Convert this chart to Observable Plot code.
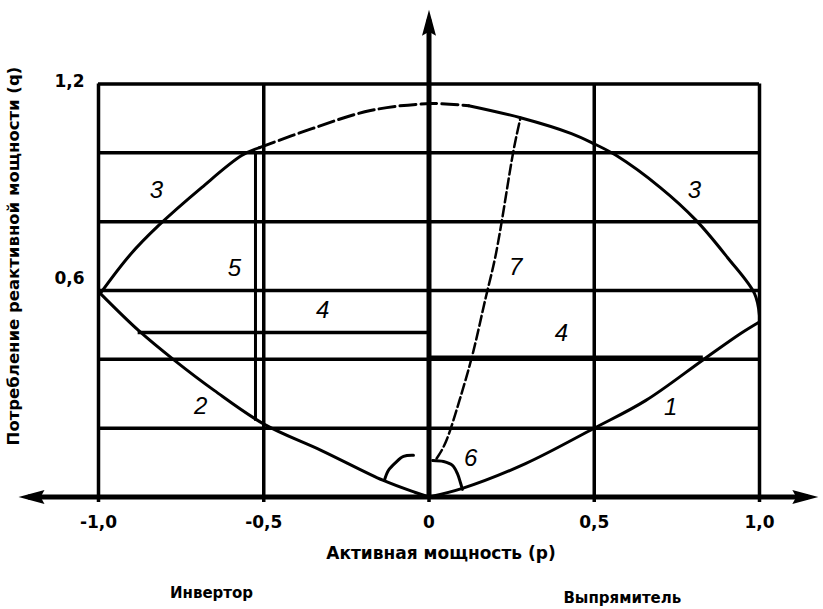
<!DOCTYPE html>
<html>
<head>
<meta charset="utf-8">
<script src="https://cdn.jsdelivr.net/npm/d3@7"></script>
<script src="https://cdn.jsdelivr.net/npm/@observablehq/plot@0.6"></script>
<style>
  html, body { margin: 0; padding: 0; background: #fff; }
  #chart svg { display: block; }
</style>
</head>
<body>
<div id="chart"></div>
<script>
// Grid and tick labels (active power p, reactive power q, per unit)
const pGrid = [-1, -0.5, 0, 0.5, 1];
const qGrid = [0.2, 0.4, 0.6, 0.8, 1.0, 1.2];
const pTickLabels = ["-1,0", "-0,5", "0", "0,5", "1,0"];
const qTicks = [0.6, 1.2];
const qTickLabels = ["0,6", "1,2"];

// Curve 1: rectifier operation
const curve1P = [0, 0.101, 0.292, 0.498, 0.655, 0.830, 0.943, 0.997];
const curve1Q = [0, 0.025, 0.097, 0.199, 0.280, 0.399, 0.475, 0.507];

// Curve 2: inverter operation
const curve2P = [-0.994, -0.879, -0.770, -0.649, -0.498, -0.325, -0.138, -0.041, 0];
const curve2Q = [0.591, 0.484, 0.397, 0.309, 0.211, 0.135, 0.048, 0.013, 0];

// Curve 3: limiting circle
const curve3P = [-0.995, -0.906, -0.818, -0.688, -0.567, -0.513, -0.352, -0.177, 0.005, 0.120, 0.277, 0.431, 0.498, 0.567, 0.700, 0.809, 0.903, 0.985, 1.000];
const curve3Q = [0.591, 0.702, 0.789, 0.899, 0.992, 1.015, 1.071, 1.123, 1.143, 1.137, 1.102, 1.056, 1.027, 0.992, 0.899, 0.803, 0.696, 0.591, 0.527];

// Curve 7 (dashed)
const curve7P = [0.023, 0.053, 0.092, 0.135, 0.173, 0.201, 0.234, 0.256, 0.277];
const curve7Q = [0.112, 0.155, 0.280, 0.417, 0.591, 0.687, 0.882, 1.015, 1.102];

// Angle arcs 6 around the origin
const arcLeftP = [-0.135, -0.123, -0.101, -0.077, -0.047];
const arcLeftQ = [0.048, 0.077, 0.100, 0.118, 0.121];
const arcRightP = [0.011, 0.044, 0.071, 0.086, 0.095, 0.101];
const arcRightQ = [0.106, 0.103, 0.092, 0.068, 0.042, 0.022];

// Straight limits 4 and 5
const line4Left = {q: 0.478, p1: -0.88, p2: 0};
const line4Right = {q: 0.405, p1: 0, p2: 0.83};
const line5 = {p: -0.525, q1: 0.22, q2: 1.0};

// Curve numbers
const curveLabels = ["3", "3", "5", "7", "4", "4", "2", "1", "6"];
const curveLabelP = [-0.825, 0.803, -0.589, 0.262, -0.322, 0.401, -0.691, 0.731, 0.126];
const curveLabelQ = [0.890, 0.890, 0.664, 0.667, 0.542, 0.475, 0.263, 0.260, 0.112];

// Axis extents (arrow tips)
const pAxisMin = -1.242, pAxisMax = 1.178, qAxisMax = 1.416;

const xTitle = "Активная мощность (p)";
const yTitle = "Потребление реактивной мощности (q)";
const modeLabels = ["Инвертор", "Выпрямитель"];
const modeLabelP = [-0.658, 0.585];

const zip = (P, Q) => P.map((p, i) => ({p, q: Q[i]}));
const curve1 = zip(curve1P, curve1Q);
const curve2 = zip(curve2P, curve2Q);
const curve3 = zip(curve3P, curve3Q);
const curve7 = zip(curve7P, curve7Q);
const arcLeft = zip(arcLeftP, arcLeftQ);
const arcRight = zip(arcRightP, arcRightQ);
const labels = curveLabels.map((t, i) => ({t, p: curveLabelP[i], q: curveLabelQ[i]}));

// Filled arrowheads with the tip at the anchor point
const head = (ux, uy) => ({
  draw(ctx) {
    const L = 26, W = 7, vx = -uy, vy = ux;
    ctx.moveTo(0, 0);
    ctx.lineTo(-ux * L + vx * W, -uy * L + vy * W);
    ctx.lineTo(-ux * L * 0.85, -uy * L * 0.85);
    ctx.lineTo(-ux * L - vx * W, -uy * L - vy * W);
    ctx.closePath();
  }
});

const bold = {fontFamily: "DejaVu Sans", fontWeight: "bold", fill: "black"};
const numFont = {fontFamily: "Liberation Sans, Arial", fontStyle: "italic", fontSize: 24, fill: "black"};
const ink = {stroke: "black"};

const chart = Plot.plot({
  width: 823,
  height: 609,
  margin: 0,
  style: {background: "white"},
  x: {domain: [-1, 1], range: [98, 759], axis: null},
  y: {domain: [0, 1.2], range: [496.5, 83.5], axis: null},
  marks: [
    // grid
    Plot.ruleX(pGrid, {y1: -0.016, y2: 1.2, strokeWidth: 3.5, ...ink}),
    Plot.ruleY(qGrid, {x1: -1, x2: 1, strokeWidth: 3.5, ...ink}),
    // axes
    Plot.ruleX([0], {y1: 0, y2: qAxisMax - 0.03, strokeWidth: 5, ...ink}),
    Plot.ruleY([0], {x1: pAxisMin + 0.03, x2: pAxisMax - 0.03, strokeWidth: 5, ...ink}),
    Plot.dot([0], {x: 0, y: qAxisMax, symbol: head(0, -1), fill: "black", stroke: "none"}),
    Plot.dot([0], {x: pAxisMin, y: 0, symbol: head(-1, 0), fill: "black", stroke: "none"}),
    Plot.dot([0], {x: pAxisMax, y: 0, symbol: head(1, 0), fill: "black", stroke: "none"}),
    // limits 4 and 5
    Plot.ruleY([line4Left.q], {x1: line4Left.p1, x2: line4Left.p2, strokeWidth: 3.5, ...ink}),
    Plot.ruleY([line4Right.q], {x1: line4Right.p1, x2: line4Right.p2, strokeWidth: 4, ...ink}),
    Plot.ruleX([line5.p], {y1: line5.q1, y2: line5.q2, strokeWidth: 3, ...ink}),
    // curves 1, 2, 3
    Plot.line(curve1, {x: "p", y: "q", curve: "catmull-rom", strokeWidth: 3, ...ink}),
    Plot.line(curve2, {x: "p", y: "q", curve: "catmull-rom", strokeWidth: 3, ...ink}),
    Plot.line(curve3.filter(d => d.p <= -0.51), {x: "p", y: "q", curve: "catmull-rom", strokeWidth: 3, ...ink}),
    Plot.line(curve3.filter(d => d.p >= -0.52 && d.p <= 0.13), {x: "p", y: "q", curve: "catmull-rom", strokeWidth: 3, strokeDasharray: "16,5", ...ink}),
    Plot.line(curve3.filter(d => d.p >= 0.11), {x: "p", y: "q", curve: "catmull-rom", strokeWidth: 3, ...ink}),
    // curve 7 and arcs 6
    Plot.line(curve7, {x: "p", y: "q", curve: "basis", strokeWidth: 2.5, strokeDasharray: "10,4", ...ink}),
    Plot.line(arcLeft, {x: "p", y: "q", curve: "catmull-rom", strokeWidth: 3, ...ink}),
    Plot.line(arcRight, {x: "p", y: "q", curve: "catmull-rom", strokeWidth: 3, ...ink}),
    // curve numbers
    Plot.text(labels, {x: "p", y: "q", text: "t", ...numFont}),
    // tick labels
    Plot.text(pGrid, {x: d => d, y: 0, text: (d, i) => pTickLabels[i], dy: 25.5, fontSize: 17, ...bold}),
    Plot.text([qTicks[0]], {x: -1, y: d => d, text: () => qTickLabels[0], dx: -14, dy: -12, textAnchor: "end", fontSize: 17, ...bold}),
    Plot.text([qTicks[1]], {x: -1, y: d => d, text: () => qTickLabels[1], dx: -14, dy: -2, textAnchor: "end", fontSize: 17, ...bold}),
    // axis titles
    Plot.text([xTitle], {x: 0, y: 0, text: d => d, dx: 12, dy: 56.5, fontSize: 17, ...bold}),
    Plot.text([yTitle], {x: -1, y: 0.70, text: d => d, dx: -85, rotate: -90, fontSize: 16.5, ...bold}),
    // operating modes
    Plot.text([modeLabels[0]], {x: modeLabelP[0], y: 0, text: d => d, dy: 96.5, fontSize: 15, ...bold}),
    Plot.text([modeLabels[1]], {x: modeLabelP[1], y: 0, text: d => d, dy: 101, fontSize: 15, ...bold})
  ]
});

document.getElementById("chart").append(chart);
</script>
</body>
</html>
